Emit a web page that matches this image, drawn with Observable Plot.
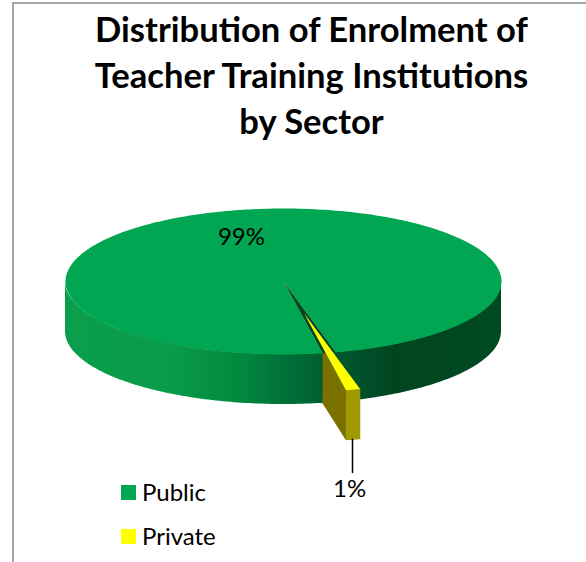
<!DOCTYPE html>
<html>
<head>
<meta charset="utf-8">
<script src="https://cdn.jsdelivr.net/npm/d3@7"></script>
<script src="https://cdn.jsdelivr.net/npm/@observablehq/plot@0.6"></script>
<style>
  html, body { margin: 0; padding: 0; background: #fff; }
  body { width: 586px; height: 562px; overflow: hidden; position: relative; font-family: Lato, "Open Sans", sans-serif; color: #000; }
  #frame { position: absolute; left: 12px; top: 2px; width: 574px; height: 560px; border-left: 2px solid #a6a6a6; border-top: 2px solid #a6a6a6; box-sizing: border-box; }
  #title { position: absolute; left: 0; width: 586px; top: 6px; margin: 0; text-align: center; font-size: 34.6px; line-height: 46px; font-weight: 700; color: #000; padding-left: 37px; box-sizing: border-box; white-space: nowrap; }
  #chart { position: absolute; left: 0; top: 170px; }
  .key { position: absolute; left: 121px; font-size: 24px; line-height: 30px; height: 30px; }
  .key i { position: absolute; left: 0; top: 8px; width: 15px; height: 15px; }
  .key span { position: absolute; left: 21px; top: 0; }
</style>
</head>
<body>
<div id="frame"></div>
<h1 id="title">Distribution of Enrolment of<br>Teacher Training Institutions<br>by Sector</h1>
<div id="chart"></div>
<div id="legend"></div>
<script>
const categories = ["Public", "Private"];
const shares = [99, 1];
const labels = ["99%", "1%"];
const colors = ["#00a651", "#ffff00"];
const wallOffsets = [0, 0.24, 0.31, 0.40, 0.49, 0.59, 0.68, 0.757, 1];
const wallColors = ["#0a9f4c", "#0a9b49", "#069444", "#018a3f", "#007339", "#005f2d", "#00502a", "#00451f", "#004a22"];

const deg = Math.PI / 180;
const startAngle = 10.3;       // degrees from straight down, turning towards the right
const depth = 0.685;           // wall height, in radii of the vertical axis
const privateSpan = shares[1] / d3.sum(shares) * 360;
const endAngle = startAngle + privateSpan;
const px = (a, r = 1, ox = 0) => ox + r * Math.sin(a * deg);
const py = (a, r = 1, oy = 0) => oy + r * Math.cos(a * deg);
const poly = (id, pts) => pts.map(([x, y]) => ({id, x, y}));

// Public: top face is the whole disc less the Private sector
const publicTop = [[0, 0]];
for (let a = endAngle; a <= startAngle + 360; a += 1) publicTop.push([px(a), py(a)]);
publicTop.push([px(startAngle), py(startAngle)]);

// Side wall along the front half of the rim
const wall = d3.range(-90, 90.5, 1).map((a) => ({x: px(a), y1: py(a), y2: py(a) + depth}));

// The cut face left by the Private sector
const notch = poly("notch", [[0, 0], [px(startAngle), py(startAngle)], [px(endAngle), py(endAngle)]]);

// Private: pulled away from the disc
const ox = 0.095, oy = 0.438, r = 1.07;
const A = [ox, oy];
const B = [px(startAngle, r, ox), py(startAngle, r, oy)];
const C = [px(endAngle, r, ox), py(endAngle, r, oy)];
const clipX = px(startAngle);
const tEdge = (clipX - A[0]) / (B[0] - A[0]);
const E = [clipX, A[1] + tEdge * (B[1] - A[1])];
const privateTop = poly("pt", [A, B, C]);
const privateSide = poly("ps", [E, B, [B[0], B[1] + depth], [clipX, py(startAngle) + depth]]);
const privateFront = poly("pf", [B, C, [C[0], C[1] + depth], [B[0], B[1] + depth]]);

const shape = (data, fill) => Plot.line(data, {x: "x", y: "y", z: "id", fill, stroke: null, curve: "linear-closed"});

// Horizontal gradient definition used by the wall area
const wallGradient = () => {
  const defs = d3.create("svg:defs");
  const g = defs.append("linearGradient").attr("id", "wallShade").attr("x1", 0).attr("x2", 1).attr("y1", 0).attr("y2", 0);
  wallOffsets.forEach((o, i) => g.append("stop").attr("offset", o).attr("stop-color", wallColors[i]));
  return defs.node();
};

const plot = Plot.plot({
  width: 586, height: 392,
  margin: 0,
  x: {domain: [-1, 1], range: [65, 501], axis: null},
  y: {domain: [-1, 1], range: [38, 184], axis: null},
  style: {background: "transparent", fontFamily: "Lato, sans-serif"},
  marks: [
    wallGradient,
    Plot.areaY(wall, {x: "x", y1: "y1", y2: "y2", fill: "url(#wallShade)"}),
    shape(privateSide, "#7a7000"),
    shape(poly("public", publicTop), colors[0]),
    shape(notch, "#004a22"),
    shape(privateFront, "#a09800"),
    shape(privateTop, colors[1]),
    // leader from the Private slice down to its label
    Plot.line([{x: 0.3165, y: py(endAngle, r, oy) + depth}, {x: 0.3165, y: 2.616}], {x: "x", y: "y", stroke: "#000", strokeWidth: 1.5}),
    Plot.text([{x: -0.193, y: -0.6, t: labels[0]}, {x: 0.303, y: 2.85, t: labels[1]}],
      {x: "x", y: "y", text: "t", fontSize: 24, fill: "#000", textAnchor: "middle"})
  ]
});
document.getElementById("chart").appendChild(plot);

const legend = document.getElementById("legend");
categories.forEach((c, i) => {
  const row = document.createElement("div");
  row.className = "key";
  row.style.top = (477 + i * 44) + "px";
  row.innerHTML = `<i style="background:${colors[i]}"></i><span>${c}</span>`;
  legend.appendChild(row);
});
</script>
</body>
</html>
